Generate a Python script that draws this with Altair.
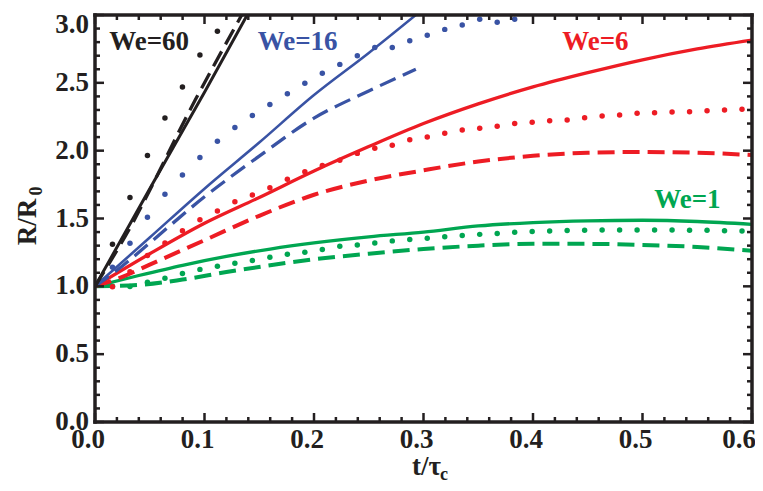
import altair as alt
import pandas as pd

BLACK = "#231f20"
BLUE = "#3953a4"
RED = "#ed1c24"
GREEN = "#00a651"
FONT = "Liberation Serif"

# ---------------- data ----------------
# We=1
we1_solid_t = [0, 0.04, 0.08, 0.12, 0.16, 0.2, 0.25, 0.3, 0.35, 0.4, 0.45, 0.5, 0.55, 0.6]
we1_solid_r = [1.0, 1.08, 1.155, 1.22, 1.275, 1.32, 1.365, 1.40, 1.445, 1.47, 1.483, 1.487, 1.478, 1.457]
we1_dash_t = [0, 0.04, 0.08, 0.12, 0.16, 0.2, 0.25, 0.3, 0.35, 0.4, 0.45, 0.5, 0.55, 0.6]
we1_dash_r = [1.0, 1.01, 1.05, 1.105, 1.155, 1.2, 1.24, 1.275, 1.3, 1.313, 1.313, 1.305, 1.29, 1.262]
we1_dots_r = [1.0, 0.998, 1.03, 1.06, 1.095, 1.125, 1.148, 1.17, 1.19, 1.214, 1.236, 1.252,
              1.272, 1.295, 1.305, 1.32, 1.335, 1.345, 1.355, 1.365, 1.375, 1.383, 1.39,
              1.398, 1.404, 1.408, 1.412, 1.414, 1.415, 1.415, 1.415, 1.415, 1.415, 1.414,
              1.413, 1.41, 1.408]
# We=6
we6_solid_t = [0, 0.05, 0.1, 0.15, 0.2, 0.25, 0.3, 0.35, 0.4, 0.45, 0.5, 0.55, 0.6]
we6_solid_r = [1.0, 1.24, 1.465, 1.655, 1.85, 2.03, 2.2, 2.345, 2.47, 2.575, 2.67, 2.75, 2.815]
we6_dash_t = [0, 0.025, 0.05, 0.1, 0.15, 0.2, 0.25, 0.3, 0.35, 0.4, 0.45, 0.5, 0.55, 0.6]
we6_dash_r = [1.0, 1.07, 1.16, 1.34, 1.52, 1.675, 1.78, 1.855, 1.92, 1.962, 1.985, 1.99, 1.985, 1.968]
we6_dots_r = [0.997, 1.108, 1.227, 1.32, 1.41, 1.49, 1.555, 1.624, 1.673, 1.727, 1.789, 1.845,
              1.89, 1.93, 1.98, 2.017, 2.04, 2.08, 2.10, 2.128, 2.152, 2.165, 2.18, 2.20,
              2.21, 2.22, 2.226, 2.243, 2.255, 2.263, 2.275, 2.28, 2.285, 2.287, 2.295,
              2.30, 2.305]
# We=16
we16_solid_t = [0, 0.05, 0.1, 0.15, 0.2, 0.25, 0.293]
we16_solid_r = [1.0, 1.36, 1.72, 2.06, 2.41, 2.72, 3.0]
we16_dash_t = [0, 0.025, 0.05, 0.1, 0.15, 0.2, 0.25, 0.293]
we16_dash_r = [1.0, 1.15, 1.32, 1.66, 1.96, 2.24, 2.44, 2.6]
we16_dots_r = [1.14, 1.317, 1.51, 1.678, 1.82, 1.95, 2.07, 2.17, 2.26, 2.34, 2.42, 2.497,
               2.57, 2.636, 2.70, 2.76, 2.76, 2.81, 2.85, 2.894, 2.926, 2.968, 2.946, 2.968]
# We=60
we60_solid_t = [0, 0.05, 0.1, 0.139]
we60_solid_r = [1.0, 1.72, 2.43, 3.0]
we60_dash_t = [0, 0.0274, 0.0915, 0.134]
we60_dash_r = [1.0, 1.366, 2.373, 3.0]
we60_dots_r = [1.31, 1.655, 1.965, 2.24, 2.47, 2.705, 2.88]

dot_step = 0.01597  # sampling interval of the dotted series

label_text = ["We=60", "We=16", "We=6", "We=1"]
label_t = [0.0494, 0.185, 0.457, 0.541]
label_r = [2.80, 2.80, 2.80, 1.636]

x_major = [0.0, 0.1, 0.2, 0.3, 0.4, 0.5, 0.6]
y_major = [0.0, 0.5, 1.0, 1.5, 2.0, 2.5, 3.0]
x_minor = [round(0.02 * i, 2) for i in range(31) if i % 5 != 0]
y_minor = [round(0.1 * i, 1) for i in range(31) if i % 5 != 0]

# ---------------- chart ----------------
W, H = 657, 407
X0, X1, Y0, Y1 = 0.0, 0.6, 0.0, 3.0
xs = alt.Scale(domain=[X0, X1], nice=False, zero=False)
ys = alt.Scale(domain=[Y0, Y1], nice=False, zero=False)

series = [
    ("We=1", GREEN, we1_solid_t, we1_solid_r, we1_dash_t, we1_dash_r, we1_dots_r, 3.3, 4.0),
    ("We=6", RED, we6_solid_t, we6_solid_r, we6_dash_t, we6_dash_r, we6_dots_r, 3.3, 4.0),
    ("We=16", BLUE, we16_solid_t, we16_solid_r, we16_dash_t, we16_dash_r, we16_dots_r, 2.6, 3.3),
    ("We=60", BLACK, we60_solid_t, we60_solid_r, we60_dash_t, we60_dash_r, we60_dots_r, 3.0, 3.3),
]


def xy():
    return dict(
        x=alt.X("t:Q", scale=xs, axis=None),
        y=alt.Y("r:Q", scale=ys, axis=None),
    )


# ---- frame ----
frame_df = pd.DataFrame({
    "x": [X0, X0, X0, X1], "x2": [X1, X1, X0, X1],
    "y": [Y0, Y1, Y0, Y0], "y2": [Y0, Y1, Y1, Y1],
})
frame = alt.Chart(frame_df).mark_rule(color=BLACK, strokeWidth=3.5, strokeCap="square").encode(
    x=alt.X("x:Q", scale=xs, axis=None), x2="x2:Q",
    y=alt.Y("y:Q", scale=ys, axis=None), y2="y2:Q",
)

# ---- inward ticks on all four sides (pixel lengths converted to data units) ----
xt_rows = []
for edge, inward in ((Y0, 1), (Y1, -1)):
    for vals, px in ((x_major, 9), (x_minor, 5)):
        d = inward * px / H * (Y1 - Y0)
        xt_rows += [{"t": v, "a": edge, "b": edge + d} for v in vals]
yt_rows = []
for edge, inward in ((X0, 1), (X1, -1)):
    for vals, px in ((y_major, 9), (y_minor, 5)):
        d = inward * px / W * (X1 - X0)
        yt_rows += [{"r": v, "a": edge, "b": edge + d} for v in vals]

x_tick_layer = alt.Chart(pd.DataFrame(xt_rows)).mark_rule(
    color=BLACK, strokeWidth=2.5, opacity=1).encode(
    x=alt.X("t:Q", scale=xs, axis=None),
    y=alt.Y("a:Q", scale=ys, axis=None),
    y2=alt.Y2("b:Q"),
)
y_tick_layer = alt.Chart(pd.DataFrame(yt_rows)).mark_rule(
    color=BLACK, strokeWidth=2.5, opacity=1).encode(
    y=alt.Y("r:Q", scale=ys, axis=None),
    x=alt.X("a:Q", scale=xs, axis=None),
    x2=alt.X2("b:Q"),
)

# ---- tick labels ----
lab_style = dict(font=FONT, fontSize=27, fontWeight="bold", color=BLACK)


def x_labels(vals, dx):
    return alt.Chart(pd.DataFrame({"t": vals, "s": [f"{v:.1f}" for v in vals]})).mark_text(
        align="center", baseline="top", dx=dx, **lab_style).encode(
        x=alt.X("t:Q", scale=xs, axis=None), y=alt.value(H + 5), text="s:N")


def y_labels(vals, dy):
    return alt.Chart(pd.DataFrame({"r": vals, "s": [f"{v:.1f}" for v in vals]})).mark_text(
        align="right", baseline="middle", dy=dy, **lab_style).encode(
        y=alt.Y("r:Q", scale=ys, axis=None), x=alt.value(-6), text="s:N")


layers = []
for name, col, st, sr, dt, dr, dots, sw, dw in series:
    layers.append(
        alt.Chart(pd.DataFrame({"t": st, "r": sr})).mark_line(
            color=col, strokeWidth=sw, strokeCap="butt", clip=True,
            interpolate="monotone").encode(**xy())
    )
    layers.append(
        alt.Chart(pd.DataFrame({"t": dt, "r": dr})).mark_line(
            color=col, strokeWidth=dw, strokeDash=[17, 8], strokeCap="butt", clip=True,
            interpolate="monotone").encode(**xy())
    )
for name, col, st, sr, dt, dr, dots, sw, dw in series:
    tt = [dot_step * (k + 1) for k in range(len(dots))]
    layers.append(
        alt.Chart(pd.DataFrame({"t": tt, "r": dots})).mark_circle(
            color=col, size=30, opacity=1, clip=True).encode(**xy())
    )

labels_df = pd.DataFrame({"t": label_t, "r": label_r, "label": label_text})
layers.append(
    alt.Chart(labels_df).mark_text(font=FONT, fontSize=27, fontWeight="bold",
                                   align="center", baseline="middle").encode(
        **xy(),
        text="label:N",
        color=alt.Color("label:N", legend=None,
                        scale=alt.Scale(domain=label_text, range=[BLACK, BLUE, RED, GREEN])),
    )
)


# axis titles with subscripts
def txt(s, px, py, size, angle=0, align="left", baseline="alphabetic"):
    kw = dict(font=FONT, fontSize=size, fontWeight="bold", color=BLACK,
              align=align, baseline=baseline)
    if angle:
        kw["angle"] = angle
    return alt.Chart(pd.DataFrame({"s": [s]})).mark_text(**kw).encode(
        text="s:N", x=alt.value(px), y=alt.value(py))


layers += [
    txt("R/R", -59, 207, 27, angle=270, align="center"),
    txt("0", -53, 176, 18, angle=270, align="center"),
    txt("t/τ", 317, 460, 27),
    txt("c", 345, 465, 18),
    x_tick_layer,
    y_tick_layer,
    frame,
    x_labels(x_major[:-1], -7),
    x_labels(x_major[-1:], -13),
    y_labels(y_major[:-1], 0),
    y_labels(y_major[-1:], 10),
]

chart = alt.layer(*layers).properties(
    width=W, height=H, autosize="none",
    padding={"left": 87, "top": 7, "right": 3, "bottom": 61},
).configure_view(stroke=None).configure(background="white")

chart.save("out.html", embed_options={"renderer": "svg", "actions": False})
